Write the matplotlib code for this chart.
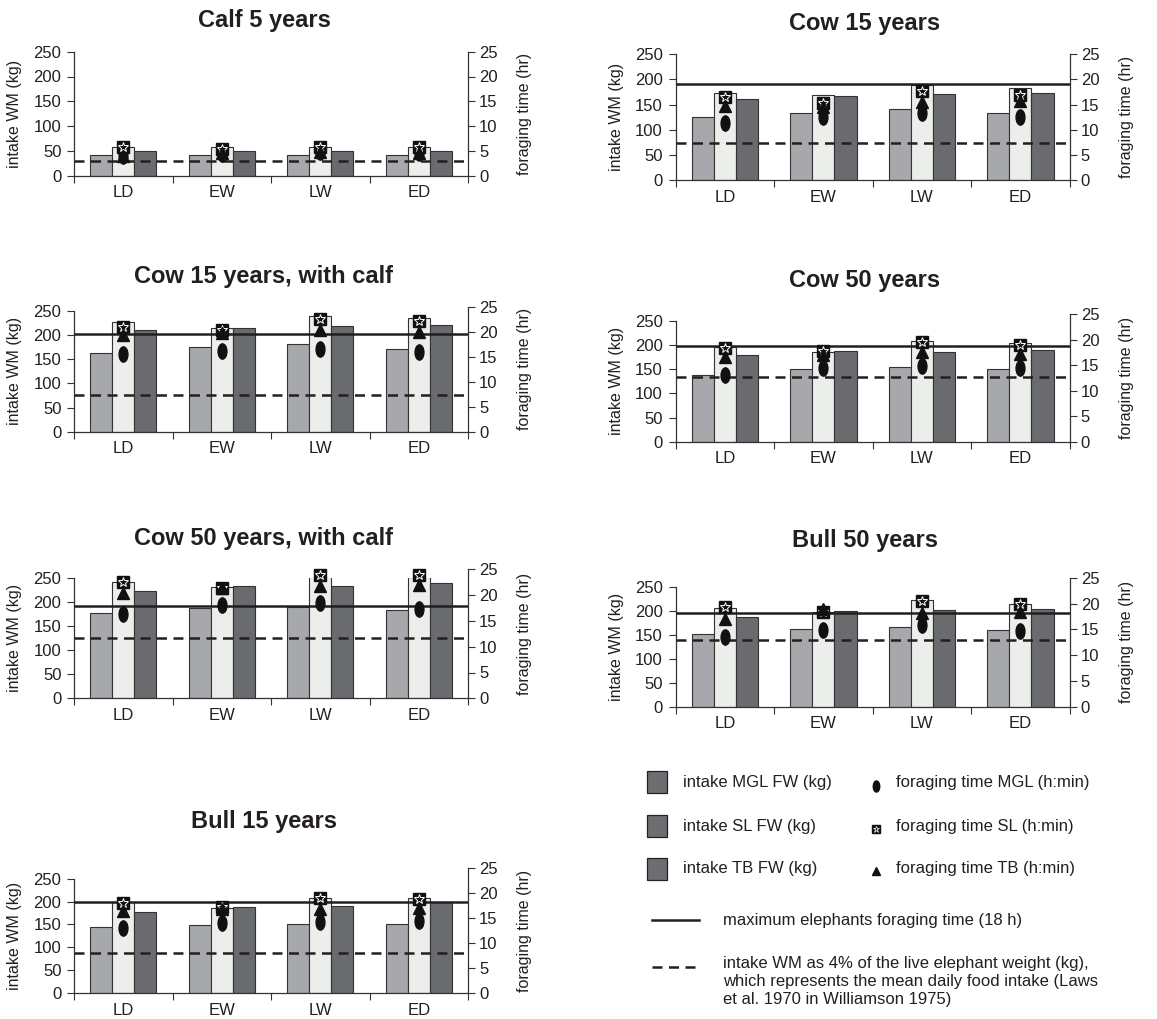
import matplotlib
matplotlib.use('Agg')
import matplotlib.pyplot as plt
from matplotlib.path import Path
from matplotlib.patches import Rectangle
import numpy as np

plt.rcParams['font.family'] = ['Liberation Sans', 'DejaVu Sans']

# ---------------- data ----------------
categories = ['LD', 'EW', 'LW', 'ED']
titles = ['Calf 5 years', 'Cow 15 years', 'Cow 15 years, with calf', 'Cow 50 years',
          'Cow 50 years, with calf', 'Bull 50 years', 'Bull 15 years']

# intake (kg), one row per panel, in the order of titles
intake_mgl = [[41, 41, 41, 41],
              [126, 133, 141, 133],
              [164, 176, 182, 171],
              [139, 151, 155, 150],
              [177, 189, 191, 184],
              [151, 162, 167, 160],
              [144, 148, 152, 150]]
intake_sl = [[57, 57, 57, 57],
             [174, 170, 189, 182],
             [228, 214, 240, 236],
             [197, 186, 209, 204],
             [242, 231, 258, 253],
             [205, 198, 222, 214],
             [199, 186, 207, 207]]
intake_tb = [[50, 49, 49, 49],
             [162, 168, 172, 174],
             [211, 215, 218, 222],
             [179, 188, 186, 190],
             [224, 233, 235, 240],
             [187, 200, 201, 203],
             [177, 188, 190, 199]]

# foraging time (h)
time_mgl = [[4.0, 4.4, 4.7, 4.5],
            [11.3, 12.6, 13.4, 12.5],
            [15.5, 16.1, 16.5, 15.9],
            [13.1, 14.5, 14.9, 14.4],
            [16.3, 18.0, 18.4, 17.3],
            [13.6, 14.9, 15.8, 14.7],
            [13.1, 14.0, 14.3, 14.5]]
time_sl = [[5.7, 5.4, 5.8, 5.8],
           [16.6, 15.3, 17.8, 17.0],
           [20.9, 20.3, 22.5, 22.1],
           [18.3, 17.8, 19.6, 19.0],
           [22.6, 21.3, 23.8, 23.8],
           [19.4, 18.4, 20.5, 20.0],
           [18.1, 17.3, 19.1, 18.9]]
time_tb = [[4.0, 4.5, 4.8, 4.6],
           [14.7, 14.6, 15.6, 15.7],
           [19.3, 19.7, 20.3, 20.0],
           [16.7, 17.0, 17.7, 17.3],
           [20.5, 21.3, 21.8, 22.0],
           [17.0, 18.9, 18.1, 18.4],
           [16.5, 16.8, 16.8, 17.1]]

# reference lines (kg on the intake axis)
max_foraging_line = [None, 190, 202, 198, 192, 196, 198]
intake_4pct_line = [30, 73, 75, 134, 126, 139, 88]

# ---------------- styling / layout ----------------
W, H = 1157, 1019
fig = plt.figure(figsize=(W / 100, H / 100), dpi=100)

TXT = '#231f20'
C_MGL = '#a7a8ab'
C_SL = '#eceeec'
C_TB = '#6a6b6f'
EDGE = '#333333'

# x0, x1, y_top_left(250), y_bottom(0), y_top_right(25), title_x, title_y  (pixels)
layout = [
    (74, 468, 51.7, 175.7, 51.7, 264, 20),
    (675.5, 1069.6, 54.3, 180, 54.3, 865, 23.3),
    (74, 468, 311, 431.7, 306.7, 264, 276.7),
    (675.5, 1069.6, 321, 441.7, 314.3, 865, 280),
    (74, 468, 578.3, 698.3, 569.3, 264, 538.3),
    (675.5, 1069.6, 586.7, 706.7, 577.7, 865, 540),
    (74, 468, 878.7, 993, 868, 264, 821.7),
]


def fx(x):
    return x / W


def fy(y):
    return 1 - y / H


circ = Path.unit_circle()
ell_marker = Path(circ.vertices * np.array([0.58, 1.0]), circ.codes)

bw = 0.225
xc = np.arange(len(categories)) + 0.5

for i, (x0, x1, ytl, yb, ytr, tx, ty) in enumerate(layout):
    ax = fig.add_axes([fx(x0), fy(yb), (x1 - x0) / W, (yb - ytl) / H])
    ax.set_xlim(0, 4)
    ax.set_ylim(0, 250)
    ax.patch.set_visible(False)
    ax.bar(xc - bw, intake_mgl[i], bw, color=C_MGL, edgecolor=EDGE, lw=0.8, zorder=2)
    ax.bar(xc, intake_sl[i], bw, color=C_SL, edgecolor=EDGE, lw=0.8, zorder=2)
    ax.bar(xc + bw, intake_tb[i], bw, color=C_TB, edgecolor=EDGE, lw=0.8, zorder=2)
    ax.axhline(intake_4pct_line[i], color=TXT, lw=1.8, ls=(0, (4, 2.6)), zorder=3)
    if max_foraging_line[i] is not None:
        ax.axhline(max_foraging_line[i], color=TXT, lw=1.8, zorder=3)
    for s in ('top', 'right'):
        ax.spines[s].set_visible(False)
    for s in ('left', 'bottom'):
        ax.spines[s].set_color('#333333')
        ax.spines[s].set_linewidth(0.9)
    ax.set_yticks(range(0, 251, 50))
    ax.set_xticks([0, 1, 2, 3, 4])
    ax.set_xticklabels([])
    ax.set_xticks(xc, minor=True)
    ax.set_xticklabels(categories, minor=True)
    ax.tick_params(axis='x', which='major', length=5, direction='out', color='#333333')
    ax.tick_params(axis='x', which='minor', length=0, pad=7, labelsize=12, labelcolor=TXT)
    ax.tick_params(axis='y', length=5, direction='out', pad=4, labelsize=12,
                   labelcolor=TXT, color='#333333')

    ax2 = fig.add_axes([fx(x0), fy(yb), (x1 - x0) / W, (yb - ytr) / H])
    ax2.patch.set_visible(False)
    ax2.set_xlim(0, 4)
    ax2.set_ylim(0, 25)
    for s in ('top', 'left', 'bottom'):
        ax2.spines[s].set_visible(False)
    ax2.spines['right'].set_color('#333333')
    ax2.spines['right'].set_linewidth(0.9)
    ax2.xaxis.set_visible(False)
    ax2.yaxis.tick_right()
    ax2.set_yticks(range(0, 26, 5))
    ax2.tick_params(axis='y', length=5, direction='out', pad=3, labelsize=12,
                    labelcolor=TXT, color='#333333')
    ax2.plot(xc, time_mgl[i], ls='none', marker=ell_marker, ms=11, color='#111111',
             zorder=4, clip_on=False)
    ax2.plot(xc, time_sl[i], ls='none', marker='s', ms=8.5, color='#111111',
             zorder=5, clip_on=False)
    ax2.plot(xc, time_sl[i], ls='none', marker='*', ms=7, mfc='#111111', mec='white',
             mew=0.7, zorder=6, clip_on=False)
    ax2.plot(xc, time_tb[i], ls='none', marker='^', ms=8, color='#111111',
             zorder=7, clip_on=False)

    fig.text(fx(tx), fy(ty), titles[i], ha='center', va='center', fontsize=17,
             fontweight='bold', color=TXT)
    fig.text(fx(x0 - 59), fy((ytl + yb) / 2), 'intake WM (kg)', rotation=90,
             ha='center', va='center', fontsize=11.5, color=TXT)
    fig.text(fx(x1 + 57), fy((ytr + yb) / 2), 'foraging time (hr)', rotation=90,
             ha='center', va='center', fontsize=11.5, color=TXT)

# ---------------- legend ----------------
lg = fig.add_axes([0, 0, 1, 1])
lg.set_xlim(0, W)
lg.set_ylim(H, 0)
lg.axis('off')
lg.patch.set_visible(False)

bar_labels = ['intake MGL FW (kg)', 'intake SL FW (kg)', 'intake TB FW (kg)']
time_labels = ['foraging time MGL (h:min)', 'foraging time SL (h:min)',
               'foraging time TB (h:min)']
rows_y = [782, 826, 869]
for k, yy in enumerate(rows_y):
    lg.add_patch(Rectangle((647, yy - 11), 20, 22, facecolor='#6d6e71',
                           edgecolor='#222222', lw=0.9))
    lg.text(683, yy, bar_labels[k], ha='left', va='center', fontsize=12, color=TXT)
    lg.text(896, yy, time_labels[k], ha='left', va='center', fontsize=12, color=TXT)

lg.plot([876], [rows_y[0] + 4], marker=ell_marker, ms=8, color='#111111', ls='none')
lg.plot([876], [rows_y[1] + 3], marker='s', ms=5.5, color='#111111', ls='none')
lg.plot([876], [rows_y[1] + 3], marker='*', ms=4.5, mfc='#111111', mec='white',
        mew=0.5, ls='none')
lg.plot([876], [rows_y[2] + 2], marker='^', ms=6, color='#111111', ls='none')

lg.plot([652, 699], [920, 920], color=TXT, lw=1.8)
lg.text(723, 920, 'maximum elephants foraging time (18 h)', ha='left', va='center',
        fontsize=12, color=TXT)
lg.plot([652, 699], [967, 967], color=TXT, lw=1.8, ls=(0, (4, 2.6)))
lg.text(723, 956, 'intake WM as 4% of the live elephant weight (kg),\n'
        'which represents the mean daily food intake (Laws\n'
        'et al. 1970 in Williamson 1975)', ha='left', va='top', fontsize=12,
        color=TXT, linespacing=1.25)

fig.savefig('out.png', dpi=100)
